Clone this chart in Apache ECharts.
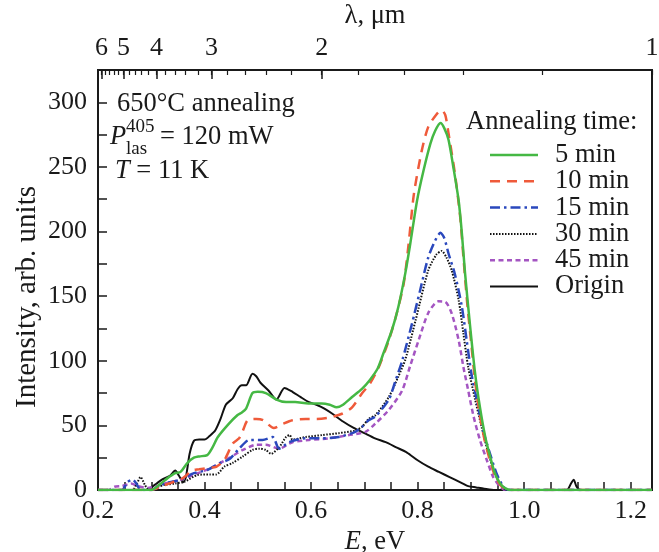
<!DOCTYPE html>
<html>
<head>
<meta charset="utf-8">
<script src="https://cdn.jsdelivr.net/npm/echarts@6/dist/echarts.min.js"></script>
<style>
html,body{margin:0;padding:0;background:#fff;}
#c{width:659px;height:552px;}
</style>
</head>
<body>
<div id="c"></div>
<script>
// ---- data (E in eV, intensity in arb. units) ----
const eTickLabels = [0.2, 0.4, 0.6, 0.8, 1.0, 1.2];
const yTickLabels = [0, 50, 100, 150, 200, 250, 300];
const lambdaLabels = [6, 5, 4, 3, 2, 1];
const seriesNames = ['5 min', '10 min', '15 min', '30 min', '45 min', 'Origin'];

const min5 = [[0.2,0],[0.3,0],[0.315,4],[0.33,9],[0.345,13],[0.355,14],[0.368,21],[0.38,25],[0.39,26],[0.405,27],[0.415,33],[0.425,41],[0.445,51],[0.462,58],[0.47,60],[0.478,63],[0.49,75],[0.5,76],[0.515,75],[0.535,70],[0.553,68],[0.57,68],[0.595,67],[0.62,67],[0.635,66],[0.648,64],[0.66,66],[0.677,72],[0.695,78],[0.71,85],[0.725,94],[0.736,106],[0.752,124],[0.764,142],[0.777,168],[0.786,190],[0.799,224],[0.811,247],[0.824,268],[0.833,278],[0.843,284],[0.85,280],[0.858,271],[0.867,250],[0.877,224],[0.883,199],[0.889,168],[0.898,129],[0.908,90],[0.917,64],[0.927,41],[0.936,26],[0.945,13],[0.955,5],[0.964,1.5],[0.975,0],[1.24,0]];
const min10 = [[0.2,0],[0.3,0],[0.32,3],[0.34,6],[0.355,8],[0.365,11],[0.375,15],[0.39,16],[0.405,17],[0.422,18],[0.437,23],[0.453,36],[0.465,40],[0.472,46],[0.481,54],[0.497,55],[0.51,54],[0.53,48],[0.546,51],[0.565,54],[0.59,55],[0.61,55],[0.634,56],[0.658,59],[0.677,64],[0.696,75],[0.71,82],[0.727,95],[0.746,116],[0.761,137],[0.774,160],[0.783,190],[0.793,229],[0.808,263],[0.82,281],[0.836,291],[0.845,294],[0.852,290],[0.858,276],[0.87,245],[0.88,211],[0.886,180],[0.893,145],[0.901,112],[0.908,84],[0.916,60],[0.925,40],[0.935,24],[0.945,11],[0.955,4],[0.965,1],[0.975,0],[1.24,0]];
const min15 = [[0.2,0],[0.245,0],[0.255,6],[0.265,8],[0.272,5],[0.28,0],[0.3,0],[0.325,5],[0.355,8],[0.38,13],[0.405,15.5],[0.43,21],[0.447,24],[0.465,32],[0.484,38.7],[0.509,38.7],[0.528,41],[0.54,32],[0.559,37],[0.59,40],[0.621,40],[0.652,41],[0.683,45],[0.696,49],[0.708,54],[0.721,57],[0.746,70],[0.758,84],[0.771,100],[0.789,128],[0.805,155],[0.82,180],[0.833,193],[0.843,199],[0.85,195],[0.858,183],[0.87,167],[0.883,142],[0.892,116],[0.901,90],[0.911,70],[0.923,46],[0.936,28],[0.948,13],[0.961,2.5],[0.97,0],[1.24,0]];
const min30 = [[0.2,0],[0.265,0],[0.272,4],[0.28,10],[0.288,4],[0.295,0],[0.31,2],[0.325,4],[0.345,5],[0.362,6.4],[0.387,11.6],[0.41,12],[0.422,12],[0.437,18],[0.453,21],[0.472,26],[0.49,31],[0.503,32],[0.515,31],[0.525,28],[0.54,33],[0.553,41],[0.56,42.5],[0.565,39],[0.59,41],[0.621,42.5],[0.652,44],[0.683,46],[0.696,49],[0.708,55],[0.721,58],[0.746,72],[0.764,88],[0.777,101],[0.796,131],[0.82,170],[0.835,182],[0.845,185],[0.854,180],[0.864,170],[0.877,147],[0.886,121],[0.895,95],[0.908,70],[0.92,49],[0.933,28],[0.945,13],[0.958,2.5],[0.968,0],[1.24,0]];
const min45 = [[0.2,0],[0.22,0],[0.231,2.5],[0.245,3],[0.262,5],[0.275,3],[0.293,1.5],[0.31,3],[0.325,5],[0.356,8],[0.387,13],[0.412,17],[0.447,25],[0.472,31],[0.497,35],[0.515,35],[0.54,32],[0.565,37],[0.596,38.7],[0.634,40],[0.671,42.5],[0.702,45],[0.721,51.5],[0.746,62],[0.771,77],[0.786,96],[0.802,116],[0.82,137],[0.839,146],[0.852,145.6],[0.864,136.6],[0.877,116],[0.886,95],[0.895,77],[0.905,57],[0.917,38.7],[0.93,23],[0.942,10],[0.955,2.5],[0.965,0],[1.24,0]];
const origin = [[0.2,0],[0.29,0],[0.3,2],[0.31,5],[0.32,8],[0.335,11],[0.345,15],[0.352,11],[0.36,6],[0.365,10],[0.372,28],[0.38,38],[0.39,39],[0.4,39],[0.41,42],[0.42,46],[0.43,55],[0.44,66],[0.453,71],[0.462,78],[0.47,81],[0.478,81],[0.49,90],[0.497,88],[0.505,83],[0.52,77],[0.535,70],[0.55,79],[0.565,76],[0.58,72],[0.596,68],[0.61,66],[0.625,63],[0.64,59],[0.66,53],[0.68,48],[0.7,44],[0.72,40],[0.74,37],[0.76,33],[0.78,29],[0.8,23],[0.82,18],[0.84,14],[0.86,10],[0.87,8],[0.885,5],[0.895,3],[0.91,2],[0.925,1],[0.945,0],[1.08,0],[1.088,5],[1.093,8],[1.098,3],[1.105,0],[1.24,0]];

// ---- helpers ----
const HC = 1.2398; // eV*um
const eMin = 0.2, eMax = 1.24;
const range = (a, b, s) => { const r = []; for (let v = a; v <= b + 1e-9; v += s) r.push(Math.round(v * 1000) / 1000); return r; };
const lambdaMinor = range(1.0, 6.2, 0.2).map(l => HC / l).filter(e => e >= eMin && e <= eMax);
const lambdaMajor = lambdaLabels.map(l => HC / l);

const FONT = 'Liberation Serif';
const INK = '#1a1a1a';
const FS = 26.5;   // annotation / legend text
const TFS = 26;    // tick labels

const styles = [
  { color: '#45b844', width: 2.5, type: 'solid' },
  { color: '#ef5a3a', width: 2.5, type: [10, 7] },
  { color: '#2a48bd', width: 2.5, type: [10, 4, 2.5, 4] },
  { color: '#111111', width: 2, type: [1.5, 1.5] },
  { color: '#a455c2', width: 2.5, type: [5, 3.5] },
  { color: '#111111', width: 2, type: 'solid' }
];
const datas = [min5, min10, min15, min30, min45, origin];

const txt = (x, y, text, extra) => ({
  type: 'text', x, y, silent: true,
  style: Object.assign({ text, fontFamily: FONT, fontSize: FS, fill: INK, verticalAlign: 'middle' }, extra || {})
});

// manual legend (line samples + labels)
const legendX = 490, legendW = 48, legendTop = 155, legendStep = 26.3;
const legendGraphics = [];
seriesNames.forEach((n, i) => {
  const y = legendTop + i * legendStep;
  legendGraphics.push({
    type: 'line', silent: true,
    shape: { x1: legendX, y1: y, x2: legendX + legendW, y2: y },
    style: { stroke: styles[i].color, lineWidth: styles[i].width, lineDash: styles[i].type === 'solid' ? null : styles[i].type }
  });
  legendGraphics.push(txt(555, y, n));
});

const chart = echarts.init(document.getElementById('c'), null, { renderer: 'canvas' });
chart.setOption({
  animation: false,
  backgroundColor: '#fff',
  textStyle: { fontFamily: FONT },
  grid: { left: 98, right: 7, top: 70, bottom: 62, outerBoundsMode: 'none', containLabel: false, show: true, borderColor: INK, borderWidth: 2, backgroundColor: 'transparent' },
  xAxis: [
    {
      type: 'value', min: eMin, max: eMax, position: 'bottom',
      name: '{i|E}, eV', nameLocation: 'middle', nameGap: 36,
      nameTextStyle: { fontFamily: FONT, fontSize: FS, color: INK, rich: { i: { fontFamily: FONT, fontSize: FS, fontStyle: 'italic', color: INK } } },
      axisLine: { show: true, lineStyle: { color: INK, width: 2 } },
      axisTick: { show: true, inside: true, length: 8, lineStyle: { color: INK, width: 1.5 }, customValues: range(0.2, 1.2, 0.05) },
      axisLabel: { customValues: eTickLabels, formatter: v => v.toFixed(1), fontFamily: FONT, fontSize: TFS, color: INK, margin: 8 },
      splitLine: { show: false }
    },
    {
      type: 'value', min: eMin, max: eMax, position: 'top',
      name: 'λ, μm', nameLocation: 'middle', nameGap: 40,
      nameTextStyle: { fontFamily: FONT, fontSize: FS, color: INK },
      axisLine: { show: true, lineStyle: { color: INK, width: 2 } },
      axisTick: { show: true, inside: true, length: 9, lineStyle: { color: INK, width: 1.5 }, customValues: lambdaMajor },
      axisLabel: { customValues: lambdaMajor, formatter: v => String(Math.round(HC / v)), fontFamily: FONT, fontSize: TFS, color: INK, margin: 9, hideOverlap: false },
      splitLine: { show: false }
    },
    {
      type: 'value', min: eMin, max: eMax, position: 'top',
      axisLine: { show: false },
      axisTick: { show: true, inside: true, length: 5, lineStyle: { color: INK, width: 1.2 }, customValues: lambdaMinor },
      axisLabel: { show: false },
      splitLine: { show: false }
    }
  ],
  yAxis: [
    {
      type: 'value', min: 0, max: 325,
      axisLine: { show: true, lineStyle: { color: INK, width: 2 } },
      axisTick: { show: true, inside: true, length: 9, lineStyle: { color: INK, width: 1.5 }, customValues: range(0, 300, 25) },
      axisLabel: { customValues: yTickLabels, fontFamily: FONT, fontSize: TFS, color: INK, margin: 11 },
      splitLine: { show: false }
    }
  ],
  graphic: [
    txt(27, 297, 'Intensity, arb. units', { align: 'center', fontSize: 29 }),
    txt(117, 104.5, '650°C annealing'),
    txt(110, 137, 'P', { fontStyle: 'italic' }),
    txt(126, 127.5, '405', { fontSize: 19 }),
    txt(126, 149, 'las', { fontSize: 19 }),
    txt(160, 137.5, '= 120 mW'),
    txt(115, 171.5, '{i|T} = 11 K', { rich: { i: { fontStyle: 'italic', fontSize: FS, fontFamily: FONT, fill: INK } } }),
    txt(466, 122, 'Annealing time:')
  ].concat(legendGraphics),
  series: datas.map((d, i) => ({
    type: 'line', name: seriesNames[i], data: d, xAxisIndex: 0, yAxisIndex: 0,
    symbol: 'none', smooth: 0.25,
    lineStyle: { color: styles[i].color, width: styles[i].width, type: styles[i].type },
    itemStyle: { color: styles[i].color },
    z: 10 - i
  }))
});
// rotate the y-axis title
const opt = chart.getOption();
opt.graphic[0].elements[0].rotation = Math.PI / 2;
chart.setOption({ graphic: opt.graphic });
</script>
</body>
</html>
